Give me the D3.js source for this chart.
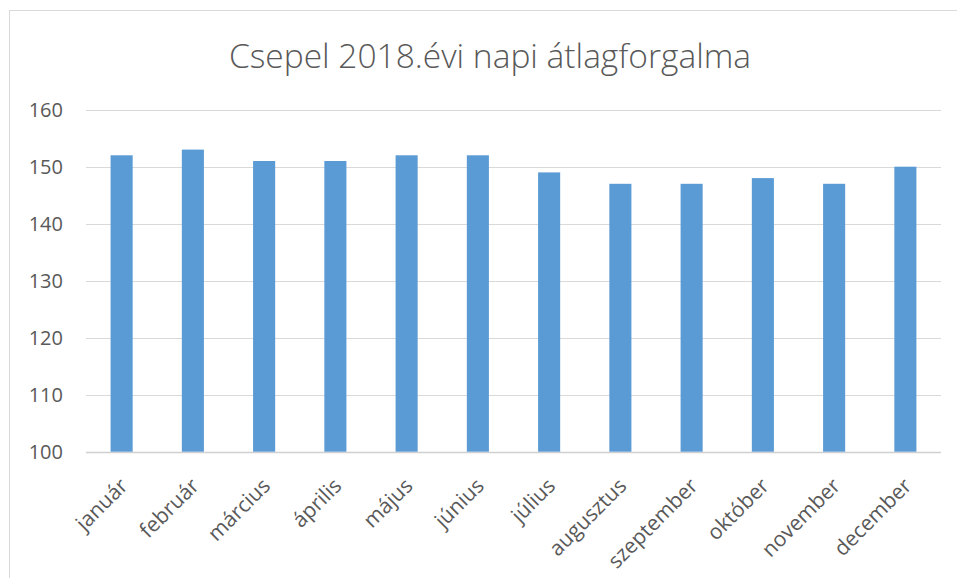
<!DOCTYPE html>
<html>
<head>
<meta charset="utf-8">
<script src="https://cdn.jsdelivr.net/npm/d3@7"></script>
<style>
  body { margin: 0; background: #fff; }
  text { font-family: "Open Sans", sans-serif; fill: #595959; }
</style>
</head>
<body>
<div id="chart"></div>
<script>
// data
const months = ["január", "február", "március", "április", "május", "június",
  "július", "augusztus", "szeptember", "október", "november", "december"];
const values = [152, 153, 151, 151, 152, 152, 149, 147, 147, 148, 147, 150];
const yTicks = [100, 110, 120, 130, 140, 150, 160];
const title = "Csepel 2018.évi napi átlagforgalma";

const width = 957, height = 578;
const margin = {top: 109.7, right: 16, bottom: 126.3, left: 86};

const svg = d3.select("#chart").append("svg")
  .attr("width", width)
  .attr("height", height);

// chart border (runs past right and bottom edges)
svg.append("rect")
  .attr("x", 9.5).attr("y", 10.5)
  .attr("width", width + 10).attr("height", height + 10)
  .attr("fill", "#fff")
  .attr("stroke", "#d9d9d9");

const x = d3.scaleBand()
  .domain(months)
  .range([margin.left, width - margin.right])
  .padding(0);

const y = d3.scaleLinear()
  .domain([100, 160])
  .range([height - margin.bottom, margin.top]);

// gridlines
svg.selectAll(".grid")
  .data(yTicks)
  .enter()
  .append("line")
  .attr("class", "grid")
  .attr("x1", margin.left)
  .attr("x2", width - margin.right)
  .attr("y1", d => Math.round(y(d)) + 0.5)
  .attr("y2", d => Math.round(y(d)) + 0.5)
  .attr("stroke", d => d === 100 ? "#d0d0d0" : "#d9d9d9")
  .attr("stroke-width", d => d === 100 ? 1.5 : 1);

// y labels
svg.selectAll(".ylab")
  .data(yTicks)
  .enter()
  .append("text")
  .attr("class", "ylab")
  .attr("x", 63)
  .attr("y", d => y(d))
  .attr("dy", "0.36em")
  .attr("text-anchor", "end")
  .style("font-size", "20px")
  .text(d => d);

// bars
const barW = x.bandwidth() * 0.31;
svg.selectAll(".bar")
  .data(values)
  .enter()
  .append("rect")
  .attr("class", "bar")
  .attr("x", (d, i) => x(months[i]) + (x.bandwidth() - barW) / 2)
  .attr("y", d => y(d))
  .attr("width", barW)
  .attr("height", d => y(100) - y(d))
  .attr("fill", "#5b9bd5");

// x labels, rotated
svg.selectAll(".xlab")
  .data(months)
  .enter()
  .append("text")
  .attr("class", "xlab")
  .attr("transform", d => `translate(${x(d) + x.bandwidth() / 2 - 3}, ${y(100) + 25}) rotate(-45)`)
  .attr("text-anchor", "end")
  .attr("dy", "0.7em")
  .style("font-size", "21px")
  .text(d => d);

// title
svg.append("text")
  .attr("x", 490)
  .attr("y", 68)
  .attr("text-anchor", "middle")
  .style("font-size", "33.5px")
  .style("font-weight", 300)
  .text(title);
</script>
</body>
</html>
